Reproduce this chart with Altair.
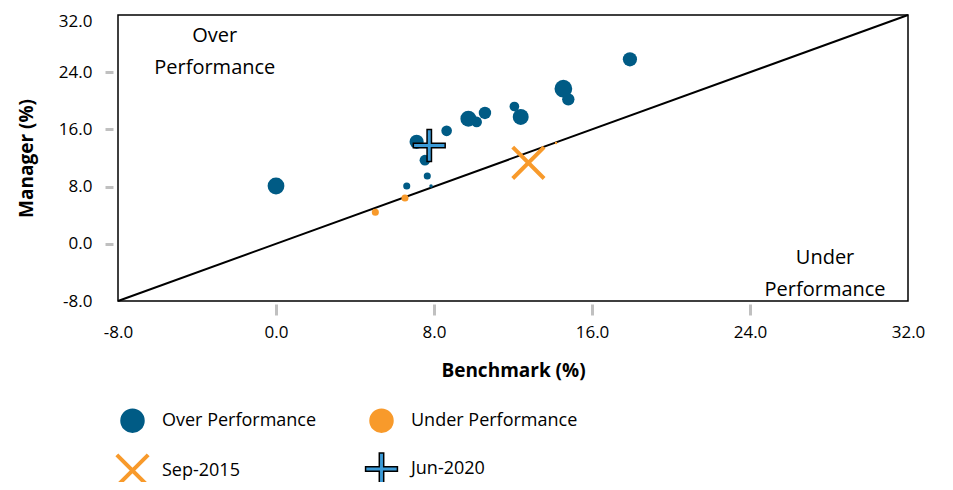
import altair as alt
import pandas as pd

# ---- data ----
bench = [0.0, 17.92, 14.55, 14.8, 12.39, 12.07, 10.58, 10.16, 9.74, 8.64,
         7.12, 7.54, 7.66, 6.62, 7.85, 6.53, 5.03, 14.18]
manager = [8.08, 25.8, 21.7, 20.2, 17.74, 19.2, 18.3, 17.05, 17.5, 15.8,
           14.26, 11.7, 9.48, 8.08, 8.08, 6.41, 4.41, 14.1]
weight = [90, 64, 100, 49, 81, 30, 49, 36, 81, 36,
          64, 36, 16, 16, 4, 16, 16, 2]

marker_names = ["Sep-2015", "Jun-2020"]
marker_bench = [12.78, 7.76]
marker_manager = [11.33, 13.75]

note_text = ["Over\nPerformance", "Under\nPerformance"]
note_x = [-3.1, 27.8]
note_y = [29.0, -2.0]

diag = [-8, 32]
tick_values = [-8, 0, 8, 16, 24, 32]
series_names = ["Over Performance", "Under Performance", "Sep-2015", "Jun-2020"]

# ---- styles ----
FONT = "Open Sans"
BLUE = "#005b85"
ORANGE = "#f89a2b"
LIGHTBLUE = "#3b9bd8"
X_PATH = "M-1.28,-1.28L1.28,1.28M1.28,-1.28L-1.28,1.28"
PLUS_PATH = ("M-0.18,-1.3L0.18,-1.3L0.18,-0.18L1.3,-0.18L1.3,0.18L0.18,0.18"
             "L0.18,1.3L-0.18,1.3L-0.18,0.18L-1.3,0.18L-1.3,-0.18L-0.18,-0.18Z")

pts = pd.DataFrame({"bench": bench, "manager": manager, "weight": weight})
pts["series"] = ["Over Performance" if m > b else "Under Performance"
                 for b, m in zip(bench, manager)]
mk = pd.DataFrame({"bench": marker_bench, "manager": marker_manager,
                   "series": marker_names})
notes = pd.DataFrame({"text": note_text, "x": note_x, "y": note_y})
line_df = pd.DataFrame({"x": diag, "y": diag})

tick_color = alt.condition("datum.value == -8 || datum.value == 32",
                           alt.value("transparent"), alt.value("#c0c0c0"))
label_expr = ("datum.value < 0 ? '-' + format(-datum.value, '.1f') "
              ": format(datum.value, '.1f')")
top_label_offset = alt.condition("datum.value == 32", alt.value(6), alt.value(0))

xscale = alt.Scale(domain=[-8, 32], nice=False, zero=False)
yscale = alt.Scale(domain=[-8, 32], nice=False, zero=False)

common_axis = dict(values=tick_values, labelExpr=label_expr, grid=False,
                   domain=False, tickWidth=3, tickColor=tick_color,
                   labelFlush=False, labelOverlap=False,
                   labelFont=FONT, labelFontSize=17, labelColor="#000000",
                   titleFont=FONT, titleFontSize=19, titleFontWeight="bold",
                   titleColor="#000000")

xaxis = alt.Axis(title="Benchmark (%)", offset=3, tickSize=11,
                 labelPadding=9, titlePadding=21, **common_axis)
yaxis = alt.Axis(title="Manager (%)", offset=5, tickSize=8,
                 labelPadding=13, titlePadding=22, labelOffset=top_label_offset,
                 **common_axis)

legend = alt.Legend(title=None, orient="bottom", columns=2, symbolSize=600,
                    labelFontSize=18, labelFont=FONT, labelColor="#000000",
                    labelLimit=400, columnPadding=45, rowPadding=13,
                    labelOffset=15, offset=28, symbolOpacity=1)

fill_enc = alt.Fill("series:N", scale=alt.Scale(domain=series_names,
                    range=[BLUE, ORANGE, ORANGE, LIGHTBLUE]), legend=legend)
stroke_enc = alt.Stroke("series:N", scale=alt.Scale(domain=series_names,
                        range=[BLUE, ORANGE, ORANGE, "#000000"]), legend=legend)
shape_enc = alt.Shape("series:N", scale=alt.Scale(domain=series_names,
                      range=["circle", "circle", X_PATH, PLUS_PATH]), legend=legend)
sw_enc = alt.StrokeWidth("series:N", scale=alt.Scale(type="ordinal", domain=series_names,
                         range=[0, 0, 4, 1.5]), legend=legend)

line = alt.Chart(line_df).mark_line(color="#000000", strokeWidth=2).encode(
    x=alt.X("x:Q", scale=xscale, axis=xaxis),
    y=alt.Y("y:Q", scale=yscale, axis=yaxis),
)

circles = alt.Chart(pts).mark_point(filled=True, opacity=1).encode(
    x=alt.X("bench:Q", scale=xscale, axis=xaxis),
    y=alt.Y("manager:Q", scale=yscale, axis=yaxis),
    size=alt.Size("weight:Q", scale=alt.Scale(domain=[0, 100], range=[0, 314]),
                  legend=None),
    fill=fill_enc, stroke=stroke_enc, shape=shape_enc, strokeWidth=sw_enc,
)

markers = alt.Chart(mk).mark_point(filled=True, opacity=1, size=600).encode(
    x=alt.X("bench:Q", scale=xscale, axis=xaxis),
    y=alt.Y("manager:Q", scale=yscale, axis=yaxis),
    fill=fill_enc, stroke=stroke_enc, shape=shape_enc, strokeWidth=sw_enc,
)

text = alt.Chart(notes).mark_text(font=FONT, fontSize=20, lineBreak="\n",
                                  lineHeight=32, align="center",
                                  baseline="middle", color="#000000").encode(
    x=alt.X("x:Q", scale=xscale, axis=xaxis),
    y=alt.Y("y:Q", scale=yscale, axis=yaxis),
    text="text:N",
)

chart = alt.layer(line, circles, markers, text).properties(
    width=790, height=286,
    autosize=alt.AutoSizeParams(type="none"),
    padding={"left": 110, "top": 7, "right": 37, "bottom": 181},
    background="#ffffff",
).configure_view(stroke="#000000", strokeWidth=1.5)

chart.save("out.html", embed_options={"renderer": "svg", "actions": False})
